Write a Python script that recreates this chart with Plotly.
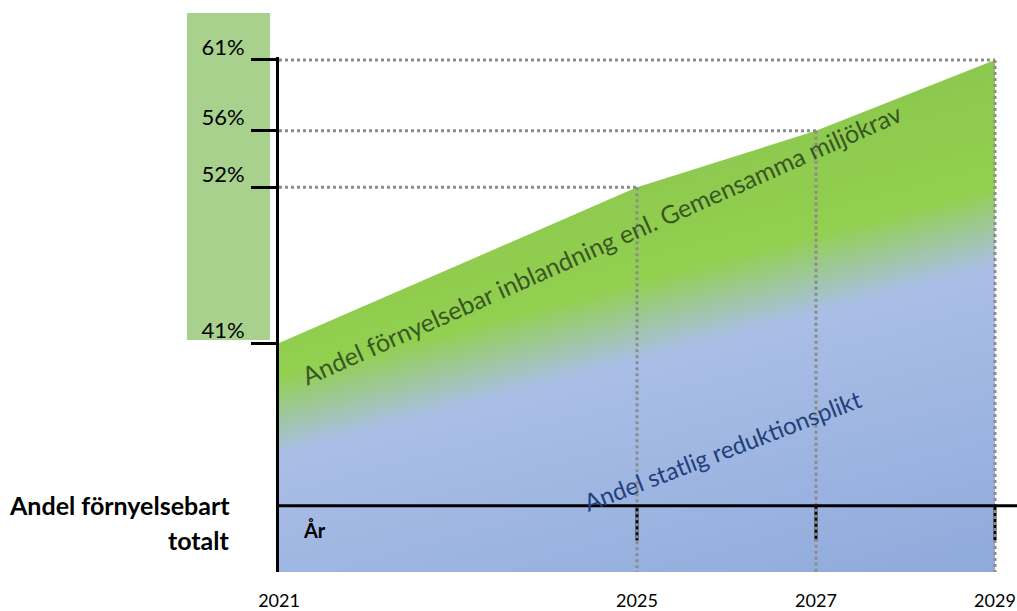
import plotly.graph_objects as go

# ---------------- data ----------------
years = [2021, 2025, 2027, 2029]
shares = [41, 52, 56, 61]
year_labels = ["2021", "2025", "2027", "2029"]
share_labels = ["41%", "52%", "56%", "61%"]

green_label = "Andel förnyelsebar inblandning enl. Gemensamma miljökrav"
blue_label = "Andel statlig reduktionsplikt"
axis_title_lines = ["Andel förnyelsebart", "totalt"]
year_axis_label = "År"

# ---------------- layout constants (style / positions) ----------------
X_RANGE = [2021, 2029.246]
Y_RANGE = [24.82, 61.21]
YEAR_LINE = 29.5          # level of the inner "År" axis line
YEAR_TICK = 27.05         # lower end of the short black year ticks
FONT = "Lato"

# diagonal colour ramp (style only): values at the plot corners
GRAD_Z = [[154, 343], [-361, -172]]
GRAD_MIN, GRAD_MAX = -361, 343
def _n(v):
    return (v - GRAD_MIN) / (GRAD_MAX - GRAD_MIN)
colorscale = [
    [0.0, "#8ac54c"],
    [_n(-172), "#8cc84e"],
    [_n(-42), "#92d050"],
    [_n(36), "#aabee6"],
    [1.0, "#8eaadb"],
]

fig = go.Figure()

# gradient background of the area
fig.add_trace(go.Heatmap(
    x=[years[0], years[-1]], y=Y_RANGE, z=GRAD_Z,
    zmin=GRAD_MIN, zmax=GRAD_MAX, colorscale=colorscale,
    zsmooth="best", showscale=False, hoverinfo="skip",
))

# white mask above the share line (and right of the last year)
mask_x = years + [years[-1], years[-1] + 20, years[-1] + 20, years[0] - 20, years[0] - 20]
mask_y = shares + [Y_RANGE[0] - 50, Y_RANGE[0] - 50, Y_RANGE[1] + 50, Y_RANGE[1] + 50, shares[0]]
fig.add_trace(go.Scatter(
    x=mask_x, y=mask_y, mode="none", fill="toself", fillcolor="white",
    hoverinfo="skip",
))

# short black ticks on the inner year line
tx, ty = [], []
for yr in years[1:]:
    tx += [yr, yr, None]
    ty += [YEAR_LINE, YEAR_TICK, None]
fig.add_trace(go.Scatter(x=tx, y=ty, mode="lines",
                         line=dict(color="black", width=3), hoverinfo="skip"))

# grey dotted guide lines
gx, gy = [], []
for yr, s in zip(years[1:], shares[1:]):
    gx += [years[0], yr, None, yr, yr, None]
    gy += [s, s, None, s, Y_RANGE[0], None]
fig.add_trace(go.Scatter(x=gx, y=gy, mode="lines",
                         line=dict(color="#8c8c8c", width=3, dash="3px,3px"),
                         hoverinfo="skip"))

shapes = [
    # inner year axis line
    dict(type="line", xref="paper", x0=0, x1=1, yref="y", y0=YEAR_LINE, y1=YEAR_LINE,
         line=dict(color="black", width=3), layer="above"),
    # light green box behind the percentage labels
    dict(type="rect", xref="paper", xsizemode="pixel", xanchor=0, x0=-92, x1=-9,
         yref="paper", ysizemode="pixel", yanchor=1, y0=-283, y1=44,
         fillcolor="#a9d18e", line=dict(width=0), layer="below"),
]

annotations = [
    dict(text=green_label, x=2024.6, y=48.0, xref="x", yref="y", showarrow=False,
         textangle=-24, font=dict(family=FONT, size=25, color="#385723")),
    dict(text=blue_label, x=2025.95, y=33.4, xref="x", yref="y", showarrow=False,
         textangle=-21, font=dict(family=FONT, size=24, color="#22407a")),
    dict(text="<b>" + year_axis_label + "</b>", x=2021.4, y=27.8, xref="x", yref="y",
         showarrow=False, font=dict(family=FONT, size=20, color="black")),
    dict(text="<b>" + axis_title_lines[0] + "</b>", x=0, xshift=-47, xanchor="right",
         xref="paper", y=29.55, yref="y", showarrow=False,
         font=dict(family=FONT, size=25, color="black")),
    dict(text="<b>" + axis_title_lines[1] + "</b>", x=0, xshift=-47, xanchor="right",
         xref="paper", y=27.1, yref="y", showarrow=False,
         font=dict(family=FONT, size=25, color="black")),
]

fig.update_layout(
    width=1017, height=611,
    margin=dict(l=279, r=0, t=57, b=39),
    paper_bgcolor="white", plot_bgcolor="white",
    showlegend=False,
    shapes=shapes, annotations=annotations,
    font=dict(family=FONT, color="black"),
    xaxis=dict(range=X_RANGE, tickvals=years, ticktext=year_labels,
               showgrid=False, zeroline=False, showline=False, ticks="",
               tickfont=dict(size=18, family=FONT), ticklabelstandoff=16,
               ticklabeloverflow="allow"),
    yaxis=dict(range=Y_RANGE, tickvals=shares, ticktext=share_labels,
               showgrid=False, zeroline=False, showline=True, linecolor="black",
               linewidth=3, ticks="outside", ticklen=25, tickwidth=3,
               tickcolor="black", ticklabelshift=-13, ticklabelstandoff=2,
               tickfont=dict(size=22, family=FONT)),
)

fig.write_html("out.html", config={"displayModeBar": False},
               post_script="document.body.style.margin='0';")
